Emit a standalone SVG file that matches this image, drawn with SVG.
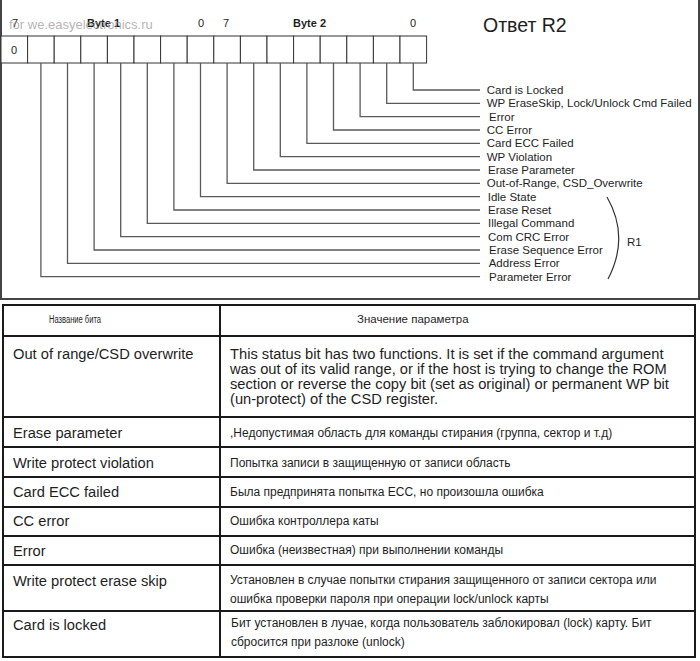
<svg xmlns="http://www.w3.org/2000/svg" width="700" height="661" viewBox="0 0 700 661">
<style>
.t{font-family:"Liberation Sans",Arial,sans-serif;fill:#1e1e1e}
.lbl{font-size:11.5px}
.bit{font-size:11px}
.b{font-weight:bold}
.cell{fill:#fff;stroke:#333;stroke-width:1}
.conn{fill:none;stroke:#5a5a5a;stroke-width:1.3}
.tb{fill:none;stroke:#1a1a1a;stroke-width:2}
.c1{font-size:14.7px}
.ru{font-size:12px}
</style>
<rect width="700" height="661" fill="#fff"/>
<path d="M1,0 V299 H699 V0" fill="none" stroke="#444" stroke-width="2"/>
<g id="bit-numbers">
<text class="t bit" x="12" y="27">7</text>
<text class="t bit b" x="87" y="27">Byte 1</text>
<text class="t bit" x="198" y="27">0</text>
<text class="t bit" x="223" y="27">7</text>
<text class="t bit b" x="293" y="27">Byte 2</text>
<text class="t bit" x="410" y="27">0</text>
</g>
<text x="9" y="29" font-family="Liberation Sans,Arial,sans-serif" font-size="13" fill="#9a9a9a" fill-opacity="0.75">for we.easyelectronics.ru</text>
<text id="title" class="t" x="483" y="32" font-size="19.5">Ответ R2</text>
<g id="register">
<rect class="cell" x="1" y="36" width="26.6" height="27"/>
<rect class="cell" x="27.6" y="36" width="26.6" height="27"/>
<rect class="cell" x="54.2" y="36" width="26.6" height="27"/>
<rect class="cell" x="80.8" y="36" width="26.6" height="27"/>
<rect class="cell" x="107.4" y="36" width="26.6" height="27"/>
<rect class="cell" x="134" y="36" width="26.6" height="27"/>
<rect class="cell" x="160.6" y="36" width="26.6" height="27"/>
<rect class="cell" x="187.2" y="36" width="26.6" height="27"/>
<rect class="cell" x="213.8" y="36" width="26.6" height="27"/>
<rect class="cell" x="240.4" y="36" width="26.6" height="27"/>
<rect class="cell" x="267" y="36" width="26.6" height="27"/>
<rect class="cell" x="293.6" y="36" width="26.6" height="27"/>
<rect class="cell" x="320.2" y="36" width="26.6" height="27"/>
<rect class="cell" x="346.8" y="36" width="26.6" height="27"/>
<rect class="cell" x="373.4" y="36" width="26.6" height="27"/>
<rect class="cell" x="400" y="36" width="26.6" height="27"/>
<text class="t bit" x="11" y="54">0</text>
</g>
<g id="connectors">
<path class="conn" d="M413.3,63 V90 H480"/>
<path class="conn" d="M386.7,63 V103.3 H480"/>
<path class="conn" d="M360.1,63 V116.7 H480"/>
<path class="conn" d="M333.5,63 V130 H480"/>
<path class="conn" d="M306.9,63 V143.3 H480"/>
<path class="conn" d="M280.3,63 V156.7 H480"/>
<path class="conn" d="M253.7,63 V170 H480"/>
<path class="conn" d="M227.1,63 V183.3 H480"/>
<path class="conn" d="M200.5,63 V196.7 H480"/>
<path class="conn" d="M173.9,63 V210 H480"/>
<path class="conn" d="M147.3,63 V223.3 H480"/>
<path class="conn" d="M120.7,63 V236.7 H480"/>
<path class="conn" d="M94.1,63 V250 H480"/>
<path class="conn" d="M67.5,63 V263.3 H480"/>
<path class="conn" d="M40.9,63 V276.7 H480"/>
<path d="M607,197 Q630,237 608,279" fill="none" stroke="#333" stroke-width="1.2"/>
</g>
<g id="labels">
<g id="l-card-locked"><text class="t lbl" x="486.7" y="94">Card is Locked</text></g>
<g id="l-wp-eraseskip"><text class="t lbl" x="486.7" y="107.3">WP EraseSkip, Lock/Unlock Cmd Failed</text></g>
<g id="l-error"><text class="t lbl" x="489" y="120.7">Error</text></g>
<g id="l-cc-error"><text class="t lbl" x="486.7" y="134">CC Error</text></g>
<g id="l-card-ecc"><text class="t lbl" x="486.7" y="147.3">Card ECC Failed</text></g>
<g id="l-wp-violation"><text class="t lbl" x="486.7" y="160.7">WP Violation</text></g>
<g id="l-erase-param"><text class="t lbl" x="488" y="174">Erase Parameter</text></g>
<g id="l-out-of-range"><text class="t lbl" x="486.7" y="187.3">Out-of-Range, CSD_Overwrite</text></g>
<g id="l-idle"><text class="t lbl" x="487.7" y="200.7">Idle State</text></g>
<g id="l-erase-reset"><text class="t lbl" x="488" y="214">Erase Reset</text></g>
<g id="l-illegal"><text class="t lbl" x="488" y="227.3">Illegal Command</text></g>
<g id="l-com-crc"><text class="t lbl" x="488" y="240.7">Com CRC Error</text></g>
<g id="l-erase-seq"><text class="t lbl" x="489" y="254">Erase Sequence Error</text></g>
<g id="l-address"><text class="t lbl" x="488.7" y="267.3">Address Error</text></g>
<g id="l-parameter"><text class="t lbl" x="489" y="280.7">Parameter Error</text></g>
<g id="l-r1"><text class="t lbl" x="627" y="246">R1</text></g>
</g>
<g id="table">
<rect class="tb" x="3" y="305" width="692" height="352"/>
<path class="tb" d="M220,305 V657 M3,336 H695 M3,417 H695 M3,447 H695 M3,477 H695 M3,507 H695 M3,536 H695 M3,565 H695 M3,611 H695"/>
<text class="t" x="49" y="323" font-size="10" textLength="52" lengthAdjust="spacingAndGlyphs">Название бита</text>
<text class="t" x="357" y="323" font-size="11.5">Значение параметра</text>
<text class="t c1" x="13" y="358.5">Out of range/CSD overwrite</text>
<text class="t c1" x="230" y="358.5">This status bit has two functions. It is set if the command argument</text>
<text class="t c1" x="230" y="373.5">was out of its valid range, or if the host is trying to change the ROM</text>
<text class="t c1" x="230" y="388.5">section or reverse the copy bit (set as original) or permanent WP bit</text>
<text class="t c1" x="230" y="403.5">(un-protect) of the CSD register.</text>
<text class="t c1" x="13" y="437.5">Erase parameter</text>
<text class="t ru" x="230" y="436.5">,Недопустимая область для команды стирания (группа, сектор и т.д)</text>
<text class="t c1" x="13" y="467.5">Write protect violation</text>
<text class="t ru" x="230" y="466.5">Попытка записи в защищенную  от записи область</text>
<text class="t c1" x="13" y="497">Card ECC failed</text>
<text class="t ru" x="230" y="495.5">Была предпринята попытка ECC, но произошла ошибка</text>
<text class="t c1" x="13" y="526">CC error</text>
<text class="t ru" x="230" y="525">Ошибка контроллера каты</text>
<text class="t c1" x="13" y="555.5">Error</text>
<text class="t ru" x="230" y="553.5">Ошибка (неизвестная) при выполнении команды</text>
<text class="t c1" x="13" y="586">Write protect erase skip</text>
<text class="t ru" x="230" y="584">Установлен в случае попытки стирания защищенного от записи сектора или</text>
<text class="t ru" x="230" y="603">ошибка проверки пароля при операции lock/unlock карты</text>
<text class="t c1" x="13" y="630">Card is locked</text>
<text class="t ru" x="231" y="627">Бит установлен в лучае, когда пользователь заблокировал (lock) карту. Бит</text>
<text class="t ru" x="231" y="646">сбросится при разлоке (unlock)</text>
</g>
</svg>
